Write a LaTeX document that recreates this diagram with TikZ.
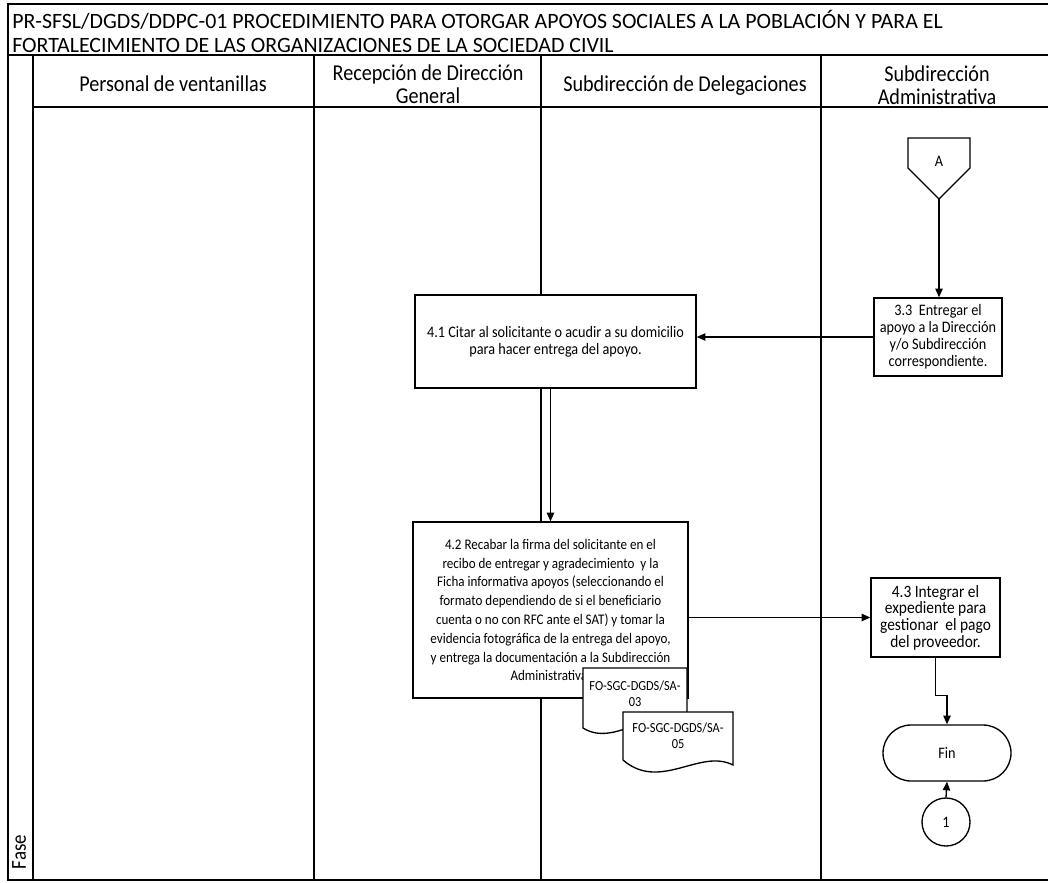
\documentclass[tikz,border=0pt]{standalone}
\usepackage{fontspec}
\setmainfont{Carlito}[FakeStretch=0.89]
\newfontfamily\titlefont{Carlito}
\usetikzlibrary{arrows.meta,calc}
\begin{document}
\begin{tikzpicture}[x=0.75pt,y=-0.75pt,
  frame/.style={line width=1pt},
  box/.style={draw,line width=1pt,fill=white,align=center,inner sep=1pt,font=\fontsize{12}{13}\selectfont},
  hdr/.style={align=center,font=\fontsize{17}{17.5}\selectfont},
  ttl/.style={anchor=base west,inner sep=0pt,font=\titlefont\fontsize{16.4}{18}\selectfont},
  doctext/.style={align=center,inner sep=0pt,font=\fontsize{10.4}{12}\selectfont},
  arr/.style={line width=1pt,-{Triangle[length=6.5pt,width=5.5pt]}},
]
\useasboundingbox (0,0) rectangle (1048,882);
% frame and lanes
\draw[frame] (1048,4) -- (8,4) -- (8,880) -- (1048,880);
\draw[frame] (8,55) -- (1048,55);
\draw[frame] (33,107) -- (1048,107);
\foreach \x in {33,314,541,821} \draw[frame] (\x,55) -- (\x,880);
% title
\node[ttl] (title1) at (12,28) {PR-SFSL/DGDS/DDPC-01 PROCEDIMIENTO PARA OTORGAR APOYOS SOCIALES A LA POBLACIÓN Y PARA EL};
\node[ttl] (title2) at (12,52) {FORTALECIMIENTO DE LAS ORGANIZACIONES DE LA SOCIEDAD CIVIL};
% headers
\node[hdr] (h1) at (173,84) {Personal de ventanillas};
\node[hdr] (h2) at (428,84) {Recepción de Dirección\\General};
\node[hdr] (h3) at (685,86) {Subdirección de Delegaciones};
\node[hdr] (h4) at (937,85) {Subdirección\\Administrativa};
\node[rotate=90, font=\fontsize{16}{18}\selectfont] (fase) at (19,852) {Fase};
% off-page connector A
\draw[frame, fill=white] (908,138) -- (970,138) -- (970,168) -- (939,199) -- (908,168) -- cycle;
\node[font=\fontsize{12}{13}\selectfont] (A) at (939,161) {A};
\coordinate (Abot) at (939,199);
% process boxes
\node[box, minimum width=96pt, minimum height=58.5pt, font=\fontsize{12}{12.8}\selectfont] (a33) at (938,337)
  {3.3\ \ Entregar el\\apoyo a la Dirección\\y/o Subdirección\\correspondiente.};
\node[box, minimum width=210.75pt, minimum height=69.75pt, font=\fontsize{12}{13}\selectfont] (a41) at (555.5,341.5)
  {4.1 Citar al solicitante o acudir a su domicilio\\para hacer entrega del apoyo.};
\node[box, minimum width=206.25pt, minimum height=132pt, font=\fontsize{11}{14.1}\selectfont] (a42) at (550.5,610)
  {4.2 Recabar la firma del solicitante en el\\recibo de entregar y agradecimiento\ \ y la\\Ficha informativa apoyos (seleccionando el\\formato dependiendo de si el beneficiario\\cuenta o no con RFC ante el SAT) y tomar la\\evidencia fotográfica de la entrega del apoyo,\\y entrega la documentación a la Subdirección\\Administrativa.};
\node[box, minimum width=96.75pt, minimum height=59.25pt, font=\fontsize{13}{12.5}\selectfont] (a43) at (935.5,617.5)
  {4.3 Integrar el\\expediente para\\gestionar\ \ el pago\\del proveedor.};
\node[draw, line width=1pt, fill=white, rounded corners=21pt, minimum width=96pt, minimum height=42pt, font=\fontsize{12}{13}\selectfont] (fin) at (947,753) {Fin};
\node[draw, line width=1pt, circle, minimum size=36pt, inner sep=0pt, font=\fontsize{12}{13}\selectfont] (c1) at (946,822) {1};
% documents
\draw[frame, fill=white] (583,668) -- (687,668) -- (687,722) .. controls (650,705) and (615,748) .. (583,728) -- cycle;
\node[doctext] (d1) at (635,694) {FO-SGC-DGDS/SA-\\03};
\draw[frame, fill=white] (623,712) -- (733,712) -- (733,765) .. controls (700,748) and (660,792) .. (623,760) -- cycle;
\node[doctext] (d2) at (678,736) {FO-SGC-DGDS/SA-\\05};
% connectors
\draw[arr] (Abot) -- (Abot |- a33.north);
\draw[arr] (a33.west) -- (a33.west -| a41.east);
\draw[arr] (a41.south -| a42.north) -- (a42.north);
\draw[arr] (a43.west -| a42.east) -- (a43.west);
\draw[arr] (a43.south) -- ++(0,38) -| (fin.north);
\draw[arr] (c1.north) -- (fin.south);
\end{tikzpicture}
\end{document}
